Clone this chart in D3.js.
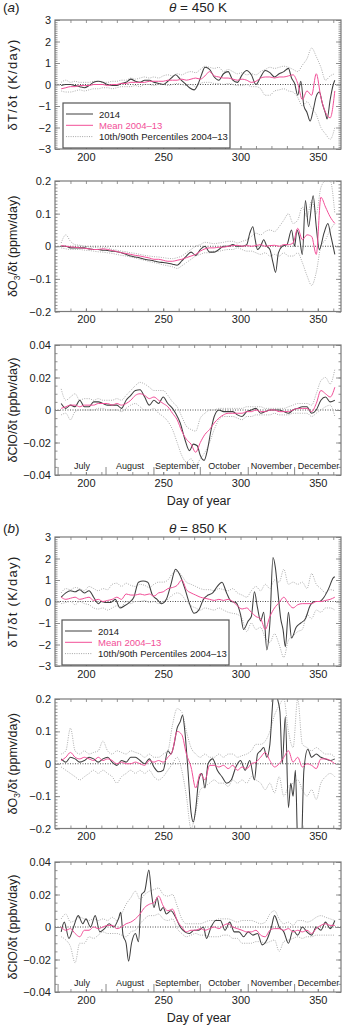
<!DOCTYPE html>
<html><head><meta charset="utf-8">
<script src="https://cdn.jsdelivr.net/npm/d3@7"></script>
<style>
body{margin:0;background:#fff}
svg{display:block}
text{font-family:"Liberation Sans",Arial,Helvetica,sans-serif;fill:#222}
</style>
</head><body>
<svg id="c" width="347" height="1026"></svg>
<script>
// ---------------- data ----------------
// common day grid for the 2004-13 mean and percentile curves
const days = [184,187,190,193,196,199,202,205,208,211,214,217,220,223,226,229,232,235,238,241,244,247,250,253,256,259,262,265,268,271,274,277,280,283,286,289,292,295,298,301,304,307,310,313,316,319,322,325,328,331,334,337,340,343,346,349,352,355,358,361];

// theta = 450 K : dT/dt (K/day)
const t450_2014_days = [184,187,190,193,196,199,202,205,208,211,214,217,220,223,226,229,232,235,238,241,244,247,250,253,256,258,261,264,267,270,273,275,277,280,283,286,289,292,295,298,301,304,307,310,313,316,319,322,325,328,331,333,335,337,339,341,343,345,347,349,351,353,355,356,358,360,361];
const t450_2014 = [-0.05,0,0,-0.05,-0.1,-0.15,-0.05,0.1,0.15,0.1,0,-0.05,-0.05,0.05,0.1,0.25,0.15,0.1,0.2,0.2,0.1,0.05,0,0.15,0.35,0.45,0.25,0.05,-0.15,-0.25,0.1,0.5,0.8,0.7,0.35,0.2,0.5,0.6,0.2,0.1,0.45,0.65,0.45,0,0.35,0.65,0.55,0.35,0.5,0.6,0.75,0.3,0.05,-0.5,0.15,-1,-1.3,-1.7,-1.2,-0.55,-0.35,-0.9,-1.35,-1.6,-0.7,0,0.2];
const t450_mean = [-0.2,-0.15,-0.1,-0.1,-0.05,-0.05,-0.05,0,0,0,-0.05,0,0,0.05,0.05,0.1,0.1,0.1,0.1,0.15,0.15,0.15,0.15,0.2,0.2,0.2,0.25,0.2,0.25,0.3,0.25,0.4,0.6,0.4,0.35,0.3,0.3,0.25,0.2,0.25,0.2,0.1,0.15,0.3,0.35,0.35,0.3,0.35,0.35,0.4,0.45,0.05,-0.7,-0.3,-0.5,0.5,-0.6,-1.3,-1.55,-0.3];
const t450_p90 = [0.1,0.2,0.1,0.15,0.1,0.1,0.1,0.15,0.15,0.1,0.1,0.15,0.15,0.2,0.2,0.3,0.25,0.3,0.35,0.3,0.35,0.3,0.4,0.45,0.4,0.5,0.45,0.55,0.6,0.55,0.7,0.85,0.8,0.75,0.8,0.6,0.7,0.6,0.5,0.55,0.45,0.5,0.45,0.6,0.7,0.8,0.75,0.8,0.85,0.8,0.7,0.6,0.9,1.2,1.7,1.3,0.8,0.2,0.4,0.5];
const t450_p10 = [-0.3,-0.35,-0.35,-0.3,-0.25,-0.3,-0.25,-0.2,-0.2,-0.15,-0.15,-0.2,-0.15,-0.1,-0.1,-0.1,-0.05,-0.1,0,0,-0.05,0,0,-0.05,0,0.05,0,-0.05,0,-0.1,0.05,0.1,0.1,0.05,0.05,0,0.05,0,-0.05,-0.05,0,-0.1,-0.1,-0.2,-0.5,-0.5,-0.3,-0.25,-0.2,-0.3,-0.35,-0.6,-1,-0.8,-1.1,-1.4,-2,-2.3,-2.55,-2];

// theta = 450 K : dO3/dt (ppmv/day)
const o3450_2014_days = [184,187,190,193,196,199,202,205,208,211,214,217,220,223,226,229,232,235,238,241,244,247,250,253,256,259,262,265,268,271,274,277,280,283,286,289,292,295,298,301,304,306,308,309.5,311,313,315,317,319,321,322.7,324.5,327,330,333,335,336.5,338,340,342,344,347,349,351,354,356.5,358.5,361];
const o3450_2014 = [0,0,-0.005,-0.005,-0.005,-0.005,-0.008,-0.01,-0.01,-0.012,-0.013,-0.015,-0.017,-0.02,-0.025,-0.03,-0.033,-0.036,-0.04,-0.042,-0.045,-0.048,-0.05,-0.052,-0.055,-0.058,-0.045,-0.03,-0.018,-0.028,-0.01,0,-0.018,-0.018,-0.01,0,0,0.005,0,0,0.005,0.04,0.06,0.02,-0.01,0,0.02,0,-0.01,-0.05,-0.08,-0.02,0,0.005,0.05,0,0.05,0.03,-0.025,0.14,0.06,0.155,0.06,-0.01,0.04,0.07,0.03,-0.025];
const o3450_mean = [0.002,0,-0.002,-0.003,-0.005,-0.006,-0.008,-0.01,-0.01,-0.008,-0.01,-0.013,-0.016,-0.02,-0.022,-0.025,-0.028,-0.03,-0.033,-0.036,-0.04,-0.04,-0.043,-0.046,-0.046,-0.043,-0.04,-0.035,-0.03,-0.025,-0.015,-0.008,-0.005,-0.005,-0.003,-0.003,0,0.002,0.003,0,0.002,0,0.002,0.005,0,0.002,0.003,0,0.005,0.005,0.01,0.055,0.02,0.035,0.03,-0.025,0.15,0.12,0.09,0.07];
const o3450_p90 = [0.01,0.035,0.015,0.005,0.003,0,-0.002,-0.003,-0.005,-0.005,-0.005,-0.01,-0.012,-0.015,-0.017,-0.02,-0.022,-0.025,-0.028,-0.03,-0.032,-0.033,-0.035,-0.037,-0.038,-0.035,-0.03,-0.02,-0.01,0,0.005,0.012,0.01,0.008,0.01,0.012,0.015,0.015,0.01,0.015,0.02,0.03,0.04,0.035,0.045,0.05,0.045,0.06,0.08,0.1,0.07,0.08,0.12,0.09,0.14,0.1,0.18,0.2,0.2,0.1];
const o3450_p10 = [-0.005,-0.008,-0.01,-0.01,-0.01,-0.012,-0.013,-0.015,-0.017,-0.018,-0.02,-0.022,-0.025,-0.028,-0.03,-0.033,-0.036,-0.04,-0.043,-0.047,-0.05,-0.053,-0.057,-0.06,-0.063,-0.068,-0.06,-0.05,-0.04,-0.03,-0.025,-0.02,-0.02,-0.015,-0.015,-0.012,-0.01,-0.01,-0.005,-0.01,-0.015,-0.015,-0.02,-0.025,-0.02,-0.03,-0.025,-0.03,-0.02,-0.03,-0.03,-0.02,-0.05,-0.09,-0.12,-0.08,0,0.02,0.05,0.07];

// theta = 450 K : dClO/dt (ppbv/day)
const clo450_2014_days = [184,187,190,193,196,199,202,205,208,211,214,217,220,223,226,229,232,235,238,241,244,247,250,253,256,258,261,264,267,269.5,272,274,276.5,278.5,281,283,286,289,292,295,298,301,304,307,310,313,316,319,322,325,328,331,334,337,340,343,346,349,352,355,358,361];
const clo450_2014 = [0.004,0.001,0.003,0.002,0.006,0.002,0.002,0.005,0.005,0.004,0.003,0.003,0.003,0.001,0.006,0.009,0.012,0.0125,0.008,0.003,0.006,0.004,0.008,0.004,0.001,-0.002,-0.008,-0.018,-0.025,-0.021,-0.022,-0.028,-0.031,-0.025,-0.012,-0.004,0,-0.001,-0.001,-0.001,-0.003,-0.004,-0.001,0,0.001,-0.002,-0.001,0,0,0,-0.001,-0.002,0,0.001,0.002,0.002,-0.002,0,0.006,0.008,0.005,0.006];
const clo450_mean = [0.001,0.002,0.003,0.003,0.002,0.003,0.003,0.003,0.004,0.004,0.004,0.003,0.004,0.003,0.004,0.006,0.009,0.01,0.009,0.007,0.008,0.006,0.004,0.002,-0.002,-0.006,-0.013,-0.018,-0.021,-0.026,-0.02,-0.015,-0.012,-0.008,-0.005,-0.003,-0.002,-0.002,-0.002,-0.002,-0.001,-0.001,0,-0.001,-0.001,0,0,-0.001,-0.001,-0.001,0,0.001,0.001,0.001,-0.001,0.004,0.012,0.01,0.008,0.014];
const clo450_p90 = [0.013,0.006,0.008,0.01,0.006,0.007,0.007,0.006,0.007,0.006,0.006,0.006,0.007,0.006,0.009,0.012,0.015,0.017,0.016,0.014,0.012,0.012,0.012,0.009,0.005,0.002,-0.004,-0.01,-0.012,-0.013,-0.005,-0.002,0,0,0.001,0.001,0.001,0.001,0.001,0.001,0.002,0.002,0.002,0.002,0.001,0.001,0.001,0.001,0.001,0.002,0.003,0.004,0.004,0.004,0.003,0.01,0.018,0.02,0.016,0.025];
const clo450_p10 = [-0.003,-0.002,-0.006,-0.001,0,0,0,0,0.001,0.001,0,0,0,-0.001,0.001,0.003,0.004,0.002,0,0,0.001,-0.002,-0.004,-0.007,-0.012,-0.02,-0.028,-0.032,-0.03,-0.034,-0.03,-0.026,-0.02,-0.012,-0.006,-0.004,-0.004,-0.004,-0.005,-0.006,-0.004,-0.004,-0.003,-0.003,-0.003,-0.003,-0.002,-0.003,-0.003,-0.003,-0.002,-0.002,-0.002,-0.002,-0.004,-0.002,0,0.002,0.003,-0.004];

// theta = 850 K : dT/dt (K/day)
const t850_2014_days = [184,187,190,193,196,199,202,205,208,210,213,216,219,222,225,228,231,234,237,240,243,246,249,252,255,258,261,264,267,270,273,276,279,282,285,288,291,294,297,300,302,305,307,309,311,313,315,317,319,321,322.5,324,326,327.5,329,331,333,336,339,342,345,348,351,354,357,360,361];
const t850_2014 = [0.2,0.4,0.5,0.45,0.55,0.4,0.5,0.2,-0.1,0,-0.05,-0.05,0.1,-0.3,-0.2,-0.05,0.2,0.9,0.95,0.9,0.3,0.1,-0.1,0.1,0.8,1.5,1.2,0.6,-0.1,-0.55,-0.4,0.1,0.3,0.4,0.7,0.9,0.4,0,-0.05,-0.6,-1.3,-0.9,-0.7,0.45,-0.3,-0.9,-0.5,-2.25,-1,2.05,1.6,0.6,-0.8,-1.3,-2.1,-0.5,-1.7,-1.2,-1,-0.8,-0.2,0,0,0.2,0.6,1.1,1.15];
const t850_mean = [0.2,0.1,0.15,0.2,0.1,0.15,0.2,0.05,0.1,0,0.05,0.1,0.2,0.1,0.35,0.3,0.3,0.35,0.3,0.35,0.25,0.4,0.45,0.6,0.65,0.75,1,0.55,0.4,0.3,0.2,0.15,0.1,0.05,0.1,0.05,0.1,0,-0.2,-0.35,-0.3,-0.5,-0.7,-0.8,-1.3,-0.7,-0.3,-0.05,0.2,-0.1,-0.3,-0.15,-0.1,-0.1,-0.1,0,0,0.05,0.1,0.2];
const t850_p90 = [0.4,0.6,0.55,0.65,0.6,0.5,0.7,0.6,0.5,0.6,0.55,0.8,0.85,0.7,0.85,0.75,0.7,0.8,0.75,0.65,0.8,0.9,0.9,1,1.3,1.4,1.2,0.9,0.8,0.7,0.6,0.55,0.55,0.5,0.6,0.55,0.5,0.6,0.4,0.3,0.2,0.5,0.7,0.5,0.8,0.6,1,0.9,1.5,0.8,0.9,0.8,0.9,0.6,1.3,0.8,0.6,0.4,0.55,0.5];
const t850_p10 = [-0.1,-0.05,0,-0.15,0,-0.1,-0.15,-0.3,-0.35,-0.3,-0.4,-0.3,-0.2,-0.25,0,-0.1,0,0,0.05,-0.05,0,-0.1,0,0.1,0.3,0.4,0.3,0,-0.2,-0.3,-0.4,-0.3,-0.35,-0.4,-0.3,-0.4,-0.5,-0.55,-0.6,-0.8,-1.4,-1,-1.3,-1.2,-1.7,-1.9,-1.5,-2,-2.6,-1.8,-1.6,-1.4,-1.3,-0.6,-0.8,-0.4,-0.5,-0.3,-0.3,-0.4];

// theta = 850 K : dO3/dt (ppmv/day)
const o3850_2014_days = [184,187,190,193,196,199,202,205,208,211,214,217,220,223,226,229,232,235,238,241,244,247,250,253,255,257,259,261,262.5,264,266,268,269.5,271,273,275,277,279,282,285,288,291,294,297,300,303,306,309,311,313,315,317,319,321,322.5,324,325.5,327,329,331,332.5,334,335.5,337,339,341,343.5,346,349,352,355,358,361];
const o3850_2014 = [0.015,0.005,0.02,0.015,0.005,0.01,0.02,0.015,0.005,0.015,0.02,0.005,-0.005,0.01,0.005,0.02,0.02,0.01,0,0.015,-0.01,-0.025,-0.02,0.04,0.03,0.06,0.11,0.13,0.15,0.1,-0.02,-0.15,-0.18,-0.14,-0.05,-0.03,-0.075,0,0.015,-0.02,-0.04,-0.06,-0.05,-0.01,0.01,-0.02,0.01,-0.05,0.03,0.04,0.05,0.02,0.06,0.2,0.25,0.2,0.16,0,0.145,-0.136,-0.06,-0.1,-0.02,-0.25,-0.3,-0.02,0.045,0.02,0.03,0.02,0.015,0.01,0.015];
const o3850_mean = [0.01,0.02,0.035,0.02,0.015,0.02,0.015,0.01,0.02,0.01,0.015,0.01,0,0.005,0,0,0.005,0,-0.005,0.01,0.005,0.01,0.005,0.02,0.04,0.1,0.09,0.03,-0.01,-0.075,-0.03,-0.05,-0.005,-0.005,-0.01,-0.005,-0.015,-0.005,-0.02,-0.01,-0.015,0,0.005,0.02,0.035,0.01,-0.01,0,0.02,0.04,0.005,0.02,-0.01,0,-0.005,-0.015,0.015,0.015,0.01,0];
const o3850_p90 = [0.03,0.04,0.11,0.04,0.03,0.04,0.03,0.035,0.04,0.07,0.04,0.03,0.04,0.035,0.03,0.04,0.035,0.03,0.02,0.03,0.02,0.02,0.03,0.04,0.12,0.17,0.16,0.1,0.05,0.03,0.02,0.03,0.02,0.02,0.03,0.02,0.03,0.03,0.02,0.025,0.03,0.04,0.06,0.06,0.07,0.1,0.15,0.18,0.2,0.1,0.05,0.2,0.06,0.05,0.04,0.05,0.04,0.03,0.03,0.02];
const o3850_p10 = [-0.01,-0.02,-0.03,-0.04,-0.05,-0.04,-0.03,-0.02,-0.03,-0.02,-0.03,-0.04,-0.06,-0.04,-0.03,-0.02,-0.03,-0.02,-0.03,-0.02,-0.04,-0.05,-0.04,-0.02,0,0.02,-0.02,-0.1,-0.2,-0.15,-0.08,-0.07,-0.06,-0.05,-0.06,-0.06,-0.07,-0.05,-0.06,-0.05,-0.06,-0.04,-0.05,-0.06,-0.08,-0.06,-0.09,-0.04,-0.1,-0.07,-0.06,-0.05,-0.08,-0.1,-0.08,-0.11,-0.06,-0.04,-0.03,-0.04];

// theta = 850 K : dClO/dt (ppbv/day)
const clo850_2014_days = [184,186,189,192,195,198,200,203,206,209,212,215,218,221,222.5,224,226,227.6,229.5,232,234,236,238,240.7,242.5,244,246,248,250,252,255,258,261,264,267,270,273,276,278,281,284,287,290,293,296,299,302,305,308,311,314,317,320,322,325,328,331,334,337,340,343,346,349,352,355,358,361];
const clo850_2014 = [-0.003,0.003,-0.007,0,0.007,0.002,0.005,0,0.007,-0.003,-0.001,0.002,0,0.005,0.009,-0.005,-0.01,-0.021,-0.01,-0.004,-0.009,0.02,0.022,0.035,0.02,0.012,0.018,0.01,0.012,0.008,0.01,0.006,0,-0.003,-0.004,-0.002,-0.002,0,-0.007,0,0.004,0.004,-0.002,0.003,-0.003,-0.003,-0.006,-0.003,-0.005,-0.004,-0.011,-0.008,0,0.007,0,-0.003,-0.01,-0.002,-0.005,0,-0.003,-0.005,0,-0.002,0.003,-0.001,0.004];
const clo850_mean = [0,-0.002,-0.001,-0.004,-0.006,-0.002,-0.002,0,-0.001,0,0.001,0.001,-0.001,0,0.002,0.003,0.005,0.008,0.012,0.014,0.015,0.019,0.013,0.01,0.011,0.004,0,-0.003,-0.002,-0.002,-0.001,-0.002,-0.001,0,-0.001,0.001,0.002,0,-0.001,-0.002,-0.003,-0.003,-0.002,-0.005,-0.006,-0.002,-0.001,-0.001,-0.002,-0.001,-0.003,-0.002,-0.003,-0.002,-0.004,-0.001,0.001,0.002,0.001,0.001];
const clo850_p90 = [0.005,0.008,0.003,0.004,0.006,0.005,0.004,0.005,0.004,0.005,0.004,0.006,0.004,0.008,0.014,0.018,0.022,0.017,0.02,0.022,0.023,0.024,0.02,0.019,0.02,0.013,0.005,0.002,0.002,0.002,0.002,0.003,0.004,0.004,0.005,0.005,0.005,0.004,0.003,0.004,0.004,0.004,0.003,0.002,0.003,0.008,0.01,0.005,0.002,0.003,0.001,0.004,0.004,0.003,0.004,0.006,0.007,0.006,0.005,0.004];
const clo850_p10 = [-0.006,-0.008,-0.012,-0.022,-0.01,-0.01,-0.006,-0.007,-0.005,-0.003,-0.004,-0.004,-0.004,-0.005,-0.006,-0.003,-0.002,0.002,0.005,0.007,0.007,0.008,0.005,0.004,0.005,-0.001,-0.004,-0.006,-0.005,-0.004,-0.005,-0.005,-0.006,-0.006,-0.006,-0.005,-0.005,-0.007,-0.007,-0.01,-0.01,-0.01,-0.009,-0.009,-0.01,-0.009,-0.008,-0.015,-0.009,-0.008,-0.007,-0.006,-0.007,-0.006,-0.006,-0.005,-0.005,-0.005,-0.005,-0.005];

const xTickValues = [200,250,300,350];
const tTicks = [-3,-2,-1,0,1,2,3];
const o3Ticks = [-0.2,-0.1,0,0.1,0.2];
const cloTicks = [-0.04,-0.02,0,0.02,0.04];
const monthNames = ["July","August","September","October","November","December"];
const monthStarts = [182,213,244,274,305,335,366];
const legendLabels = ["2014","Mean 2004\u201313","10th/90th Percentiles 2004\u201313"];

// ---------------- styles ----------------
const C_2014 = "#3f3f3f", C_MEAN = "#f24f98", C_PCT = "#a5a5a5", C_FRAME = "#7a7a7a";
const FONT = '"Liberation Sans",Arial,Helvetica,sans-serif';

const svg = d3.select("#c");
const x = d3.scaleLinear().domain([180,365]).range([55,341]);

function fmt(d){ if (d===0) return "0"; return (d<0?"\u2212":"") + String(Math.abs(d)); }

const panels = [
  {top:20,bottom:149,ticks:tTicks,minor:0.1,label:"T",s:[t450_p10,t450_p90,t450_mean],d14:t450_2014_days,v14:t450_2014,legend:[63,103]},
  {top:181,bottom:311.5,ticks:o3Ticks,minor:0.01,label:"O3",s:[o3450_p10,o3450_p90,o3450_mean],d14:o3450_2014_days,v14:o3450_2014},
  {top:345,bottom:475,ticks:cloTicks,minor:0.005,label:"ClO",s:[clo450_p10,clo450_p90,clo450_mean],d14:clo450_2014_days,v14:clo450_2014,months:true},
  {top:537,bottom:666,ticks:tTicks,minor:0.1,label:"T",s:[t850_p10,t850_p90,t850_mean],d14:t850_2014_days,v14:t850_2014,legend:[62,620]},
  {top:699,bottom:828.5,ticks:o3Ticks,minor:0.01,label:"O3",s:[o3850_p10,o3850_p90,o3850_mean],d14:o3850_2014_days,v14:o3850_2014},
  {top:862,bottom:992,ticks:cloTicks,minor:0.005,label:"ClO",s:[clo850_p10,clo850_p90,clo850_mean],d14:clo850_2014_days,v14:clo850_2014,months:true}
];

panels.forEach((p,pi)=>{
  const lo = p.ticks[0], hi = p.ticks[p.ticks.length-1];
  const y = d3.scaleLinear().domain([lo,hi]).range([p.bottom,p.top]);
  const g = svg.append("g");
  const L = x.range()[0], R = x.range()[1];
  const cid = "clip"+pi;
  svg.append("clipPath").attr("id",cid).append("rect")
     .attr("x",L).attr("y",p.top).attr("width",R-L).attr("height",p.bottom-p.top);

  // zero line
  g.append("line").attr("x1",L).attr("x2",R).attr("y1",y(0)).attr("y2",y(0))
    .attr("stroke","#222").attr("stroke-width",0.8).attr("stroke-dasharray","1,1.5");

  const line = d3.line().x(d=>x(d[0])).y(d=>y(d[1])).curve(d3.curveMonotoneX);
  const lg = g.append("g").attr("clip-path",`url(#${cid})`);
  [p.s[0],p.s[1]].forEach(arr=>{
    lg.append("path").attr("d",line(d3.zip(days,arr))).attr("fill","none")
      .attr("stroke",C_PCT).attr("stroke-width",0.9).attr("stroke-dasharray","1,1.3");
  });
  lg.append("path").attr("d",line(d3.zip(p.d14,p.v14))).attr("fill","none").attr("stroke",C_2014).attr("stroke-width",1.05);
  lg.append("path").attr("d",line(d3.zip(days,p.s[2]))).attr("fill","none").attr("stroke",C_MEAN).attr("stroke-width",1);

  // minor tick values
  const step = p.minor;
  const nMinor = Math.round((hi-lo)/step);
  const minorVals = d3.range(0,nMinor+1).map(k=>lo+k*step);
  const xMinor = d3.range(190,361,10);

  const axes = g.append("g");
  const styleAxis = sel => { sel.select(".domain").remove(); sel.selectAll("line").attr("stroke",C_FRAME).attr("stroke-width",0.8); sel.selectAll("text").attr("font-size",11).attr("fill","#222").attr("font-family",FONT); };

  axes.append("g").attr("transform",`translate(${L},0)`)
    .call(d3.axisLeft(y).tickValues(minorVals).tickSize(-2.5).tickFormat("")).call(styleAxis);
  axes.append("g").attr("transform",`translate(${L},0)`)
    .call(d3.axisLeft(y).tickValues(p.ticks).tickSize(-5).tickPadding(4).tickFormat(fmt)).call(styleAxis);
  axes.append("g").attr("transform",`translate(${R},0)`)
    .call(d3.axisRight(y).tickValues(minorVals).tickSize(-2.5).tickFormat("")).call(styleAxis);
  axes.append("g").attr("transform",`translate(${R},0)`)
    .call(d3.axisRight(y).tickValues(p.ticks).tickSize(-5).tickFormat("")).call(styleAxis);
  axes.append("g").attr("transform",`translate(0,${p.bottom})`)
    .call(d3.axisBottom(x).tickValues(xMinor).tickSize(-3).tickFormat("")).call(styleAxis);
  axes.append("g").attr("transform",`translate(0,${p.bottom})`)
    .call(d3.axisBottom(x).tickValues(xTickValues).tickSize(-3).tickPadding(4).tickFormat(d3.format("d"))).call(styleAxis);
  axes.append("g").attr("transform",`translate(0,${p.top})`)
    .call(d3.axisTop(x).tickValues(xMinor).tickSize(-3).tickFormat("")).call(styleAxis);

  // frame
  g.append("rect").attr("x",L).attr("y",p.top).attr("width",R-L).attr("height",p.bottom-p.top)
    .attr("fill","none").attr("stroke",C_FRAME).attr("stroke-width",1.2);

  // y label
  const yc = (p.top+p.bottom)/2;
  const t = g.append("text").attr("transform",`translate(17,${yc}) rotate(-90)`)
    .attr("text-anchor","middle").attr("font-size",12.5);
  if (p.label==="O3"){
    t.append("tspan").text("\u03b4O");
    t.append("tspan").text("3").attr("font-size",8.5).attr("dy",3);
    t.append("tspan").text("/\u03b4t (ppmv/day)").attr("dy",-3);
  } else if (p.label==="T"){
    t.attr("font-size",13).attr("letter-spacing",1.3).text("\u03b4T/\u03b4t (K/day)");
  } else t.text("\u03b4ClO/\u03b4t (ppbv/day)");

  // months
  if (p.months){
    monthStarts.forEach(m=>{
      if (m<365) g.append("line").attr("x1",x(m)).attr("x2",x(m)).attr("y1",p.bottom).attr("y2",p.bottom-8)
        .attr("stroke",C_FRAME).attr("stroke-width",0.9);
    });
    monthNames.forEach((n,i)=>{
      g.append("text").attr("x",x((monthStarts[i]+monthStarts[i+1])/2)).attr("y",p.bottom-6)
        .attr("text-anchor","middle").attr("font-size",9).text(n);
    });
    g.append("text").attr("x",x(273)).attr("y",p.bottom+30).attr("text-anchor","middle")
      .attr("font-size",12.5).text("Day of year");
  }

  // legend
  if (p.legend){
    const [lx,ly] = p.legend;
    const lgd = g.append("g");
    lgd.append("rect").attr("x",lx).attr("y",ly).attr("width",167).attr("height",45)
      .attr("fill","#fff").attr("stroke","#555").attr("stroke-width",1.2);
    const styles = [[C_2014,null],[C_MEAN,null],[C_PCT,"1,1.3"]];
    legendLabels.forEach((lab,i)=>{
      const yy = ly+11+i*11.3;
      lgd.append("line").attr("x1",lx+3).attr("x2",lx+30).attr("y1",yy).attr("y2",yy)
        .attr("stroke",styles[i][0]).attr("stroke-width",1).attr("stroke-dasharray",styles[i][1]);
      lgd.append("text").attr("x",lx+36).attr("y",yy+3.5).attr("font-size",9.5)
        .style("fill", i===1?C_MEAN:"#222").text(lab);
    });
  }
});

// titles
function title(yb, val, tag){
  const t = svg.append("text").attr("x",198).attr("y",yb).attr("text-anchor","middle").attr("font-size",13.5);
  t.append("tspan").attr("font-style","italic").text("\u03b8");
  t.append("tspan").text(" = "+val+" K");
  const a = svg.append("text").attr("x",3).attr("y",yb).attr("font-size",13.5);
  a.append("tspan").text("(");
  a.append("tspan").attr("font-style","italic").text(tag);
  a.append("tspan").text(")");
}
title(12,450,"a");
title(533,850,"b");
</script>
</body></html>
